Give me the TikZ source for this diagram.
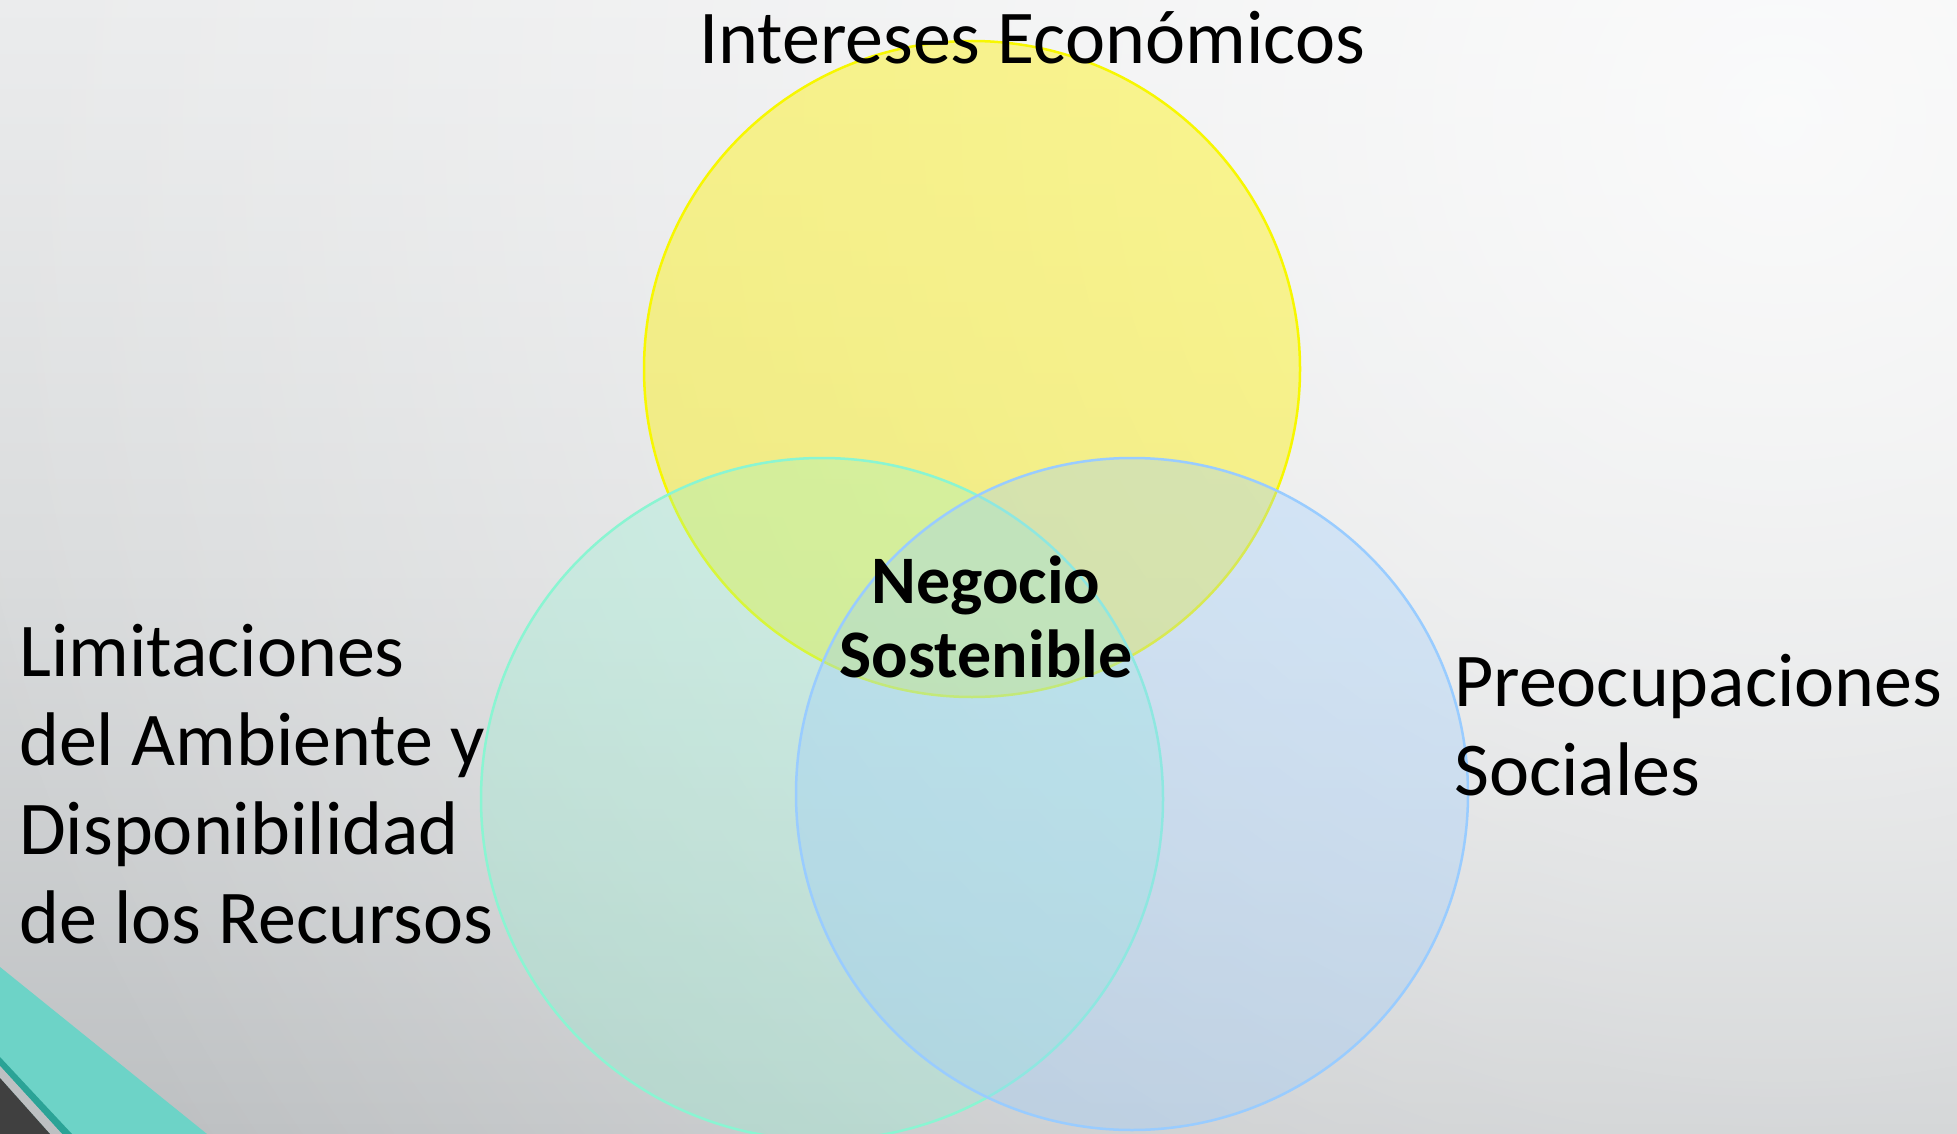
\documentclass[tikz,border=0pt]{standalone}
\usepackage{fontspec}
\setmainfont{Carlito}
\usetikzlibrary{fadings}
\definecolor{bgtop}{HTML}{EAEBEC}
\definecolor{bgmid}{HTML}{D9DBDC}
\definecolor{bgbot}{HTML}{BDC0C2}
\definecolor{ylwline}{HTML}{F7F700}
\definecolor{grnline}{HTML}{8AF5D2}
\definecolor{bluline}{HTML}{99CCFF}
\definecolor{tealband}{HTML}{6DD3C7}
\definecolor{tealdark}{HTML}{2BA396}
\definecolor{darkgray}{HTML}{404040}
\tikzfading[name=glowfade, inner color=transparent!0, outer color=transparent!100]
\begin{document}
\begin{tikzpicture}[x=1pt,y=-1pt,
  venn/.style={circle, inner sep=0pt, line width=2.5pt},
  lbl/.style={inner sep=0pt, align=left, text=black,
    font=\fontsize{76}{89}\selectfont},
  core/.style={inner sep=0pt, align=center, text=black,
    font=\fontsize{68}{74}\selectfont\bfseries}]
\useasboundingbox (0,0) rectangle (1957,1134);
% background
\shade[top color=bgtop, bottom color=bgbot, middle color=bgmid] (0,0) rectangle (1957,1134);
\begin{scope}
  \clip (0,0) rectangle (1957,1134);
  \fill[white, path fading=glowfade, fit fading=true, fill opacity=0.8] (1780,120) circle (1900pt);
\end{scope}
% bottom-left decoration
\fill[tealband] (0,967) -- (207,1134) -- (0,1134) -- cycle;
\fill[tealdark] (0,1057) -- (72,1134) -- (62,1134) -- (0,1066) -- cycle;
\fill[bgbot] (0,1066) -- (62,1134) -- (50,1134) -- (0,1078) -- cycle;
\fill[darkgray] (0,1078) -- (50,1134) -- (0,1134) -- cycle;
% circles
\node[venn, minimum size=656pt, draw=ylwline, fill=yellow, fill opacity=0.42] (eco) at (972,369) {};
\node[venn, minimum size=682pt, draw=grnline, fill=grnline, fill opacity=0.28] (amb) at (822,799) {};
\node[venn, minimum size=672pt, draw=bluline, fill=bluline, fill opacity=0.32] (soc) at (1132,794) {};
% labels
\node[lbl, anchor=base west] (teco) at (699,64) {Intereses Económicos};
\node[lbl, anchor=north west] (tamb) at (19,624) {Limitaciones\\del Ambiente y\\Disponibilidad\\de los Recursos};
\node[lbl, anchor=north west] (tsoc) at (1454,654) {Preocupaciones\\Sociales};
\node[core, anchor=north] (tcore) at (986,556) {Negocio\\Sostenible};
\end{tikzpicture}
\end{document}
